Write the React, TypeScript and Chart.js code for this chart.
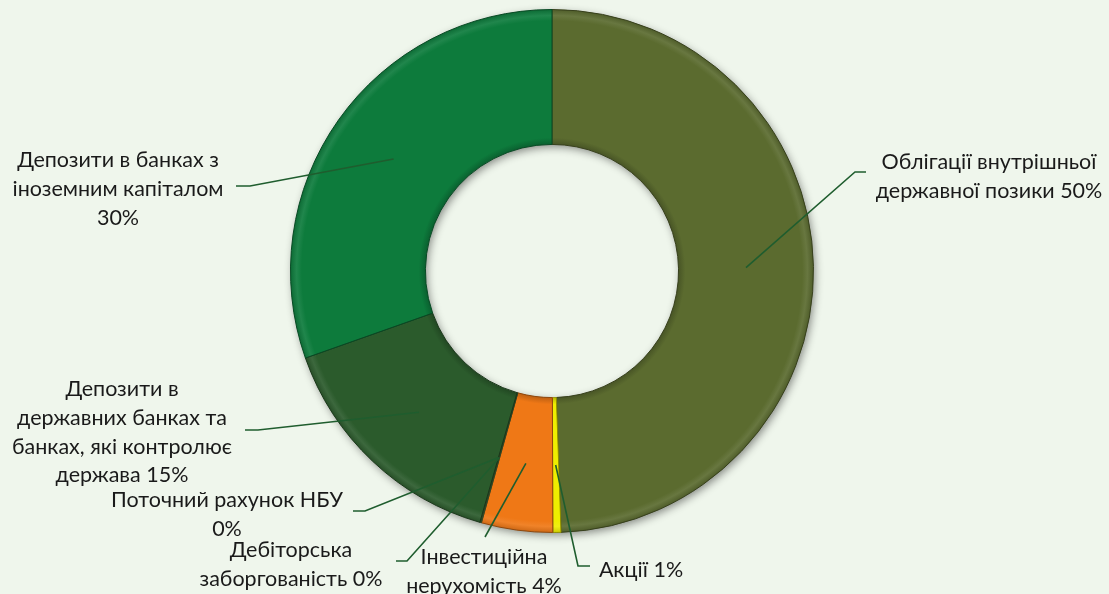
import React, { useEffect, useRef } from "react";
import { Chart, registerables } from "chart.js";

Chart.register(...registerables);

const categories = [
  "Облігації внутрішньої державної позики",
  "Акції",
  "Інвестиційна нерухомість",
  "Дебіторська заборгованість",
  "Поточний рахунок НБУ",
  "Депозити в державних банках та банках, які контролює держава",
  "Депозити в банках з іноземним капіталом",
];
const shares = [49.45, 0.5, 4.4, 0.05, 0.05, 15.15, 30.4];
const percentLabels = ["50%", "1%", "4%", "0%", "0%", "15%", "30%"];
const labelLines = [
  ["Облігації внутрішньої", "державної позики 50%"],
  ["Акції 1%"],
  ["Інвестиційна", "нерухомість 4%"],
  ["Дебіторська", "заборгованість 0%"],
  ["Поточний рахунок НБУ", "0%"],
  ["Депозити в", "державних банках та", "банках, які контролює", "держава 15%"],
  ["Депозити в банках з", "іноземним капіталом", "30%"],
];
const sliceColors = ["#5b6b2f", "#eeee00", "#ef7816", "#5a7a3a", "#4a6a3a", "#2b5b2c", "#0d7b3c"];

// label placement (text centre x, first line y, leader elbow, leader end)
const labelLayout = [
  { x: 989, y: 162, elbow: [855, 172], end: [866, 172] },
  { x: 641, y: 570, elbow: [578, 566], end: [590, 566] },
  { x: 484, y: 557, elbow: [485, 537], end: [485, 537] },
  { x: 291, y: 550, elbow: [407, 561], end: [396, 561] },
  { x: 227, y: 500, elbow: [365, 511], end: [353, 511] },
  { x: 122, y: 389, elbow: [258, 430], end: [245, 430] },
  { x: 118, y: 160, elbow: [250, 186], end: [236, 186] },
];

const BG = "#eff6ec";
const FONT = "Lato, 'Open Sans', sans-serif";
const FONT_SIZE = 21.5;
const LINE_H = 28.8;

function shade(hex: string, f: number) {
  const n = parseInt(hex.slice(1), 16);
  let r = (n >> 16) & 255, g = (n >> 8) & 255, b = n & 255;
  const m = (c: number) => Math.max(0, Math.min(255, Math.round(f >= 1 ? c + (255 - c) * (f - 1) : c * f)));
  return `rgb(${m(r)},${m(g)},${m(b)})`;
}

const ringShadow = {
  id: "ringShadow",
  beforeDatasetsDraw(chart: any) {
    const meta = chart.getDatasetMeta(0);
    const el = meta.data[0];
    if (!el) return;
    const { x, y, outerRadius, innerRadius } = el.getProps(["x", "y", "outerRadius", "innerRadius"], true);
    const ctx = chart.ctx;
    ctx.save();
    ctx.shadowColor = "rgba(0,0,0,0.45)";
    ctx.shadowBlur = 8;
    ctx.shadowOffsetX = 2;
    ctx.shadowOffsetY = 3;
    ctx.fillStyle = "#333";
    ctx.beginPath();
    ctx.arc(x, y, outerRadius - 0.5, 0, Math.PI * 2);
    ctx.arc(x, y, innerRadius + 0.5, 0, Math.PI * 2, true);
    ctx.fill("evenodd");
    ctx.restore();
  },
};

const leaderLabels = {
  id: "leaderLabels",
  afterDatasetsDraw(chart: any) {
    const ctx = chart.ctx;
    const meta = chart.getDatasetMeta(0);
    ctx.save();
    meta.data.forEach((arc: any, i: number) => {
      const p = arc.tooltipPosition(true);
      const L = labelLayout[i];
      ctx.strokeStyle = "#1f5d2e";
      ctx.lineWidth = 1.6;
      ctx.beginPath();
      ctx.moveTo(p.x, p.y);
      ctx.lineTo(L.elbow[0], L.elbow[1]);
      ctx.lineTo(L.end[0], L.end[1]);
      ctx.stroke();
      ctx.fillStyle = "#1a1a1a";
      ctx.font = `${FONT_SIZE}px ${FONT}`;
      ctx.textAlign = "center";
      ctx.textBaseline = "middle";
      labelLines[i].forEach((t, k) => ctx.fillText(t, L.x, L.y + k * LINE_H));
    });
    ctx.restore();
  },
};

export default function App() {
  const ref = useRef<HTMLCanvasElement>(null);
  useEffect(() => {
    const canvas = ref.current!;
    const chart = new Chart(canvas, {
      type: "doughnut",
      data: {
        labels: categories,
        datasets: [
          {
            data: shares,
            backgroundColor: (c: any) => {
              const base = sliceColors[c.dataIndex] || "#888";
              const ch = c.chart;
              const a = ch.chartArea;
              if (!a) return base;
              const cx = (a.left + a.right) / 2;
              const cy = (a.top + a.bottom) / 2;
              const R = Math.min(a.right - a.left, a.bottom - a.top) / 2;
              const rIn = R * 0.484;
              const g = ch.ctx.createRadialGradient(cx, cy, 0, cx, cy, R);
              const fi = rIn / R;
              g.addColorStop(0, shade(base, 0.75));
              g.addColorStop(fi, shade(base, 0.8));
              g.addColorStop(fi + 0.025, base);
              g.addColorStop(0.955, base);
              g.addColorStop(0.975, shade(base, 1.08));
              g.addColorStop(1, shade(base, 0.85));
              return g;
            },
            borderColor: sliceColors.map((c) => shade(c, 0.6)),
            borderWidth: 1,
          },
        ],
      },
      options: {
        responsive: false,
        maintainAspectRatio: false,
        animation: false,
        cutout: "48.4%",
        layout: { padding: { top: 9, bottom: 61, left: 290, right: 295 } },
        plugins: {
          legend: { display: false },
          tooltip: { enabled: false },
        },
      },
      plugins: [ringShadow, leaderLabels],
    });
    return () => chart.destroy();
  }, []);
  return (
    <div style={{ position: "absolute", left: 0, top: 0, width: 1109, height: 594, background: BG }}>
      <canvas ref={ref} width={1109} height={594} style={{ display: "block" }} />
    </div>
  );
}
